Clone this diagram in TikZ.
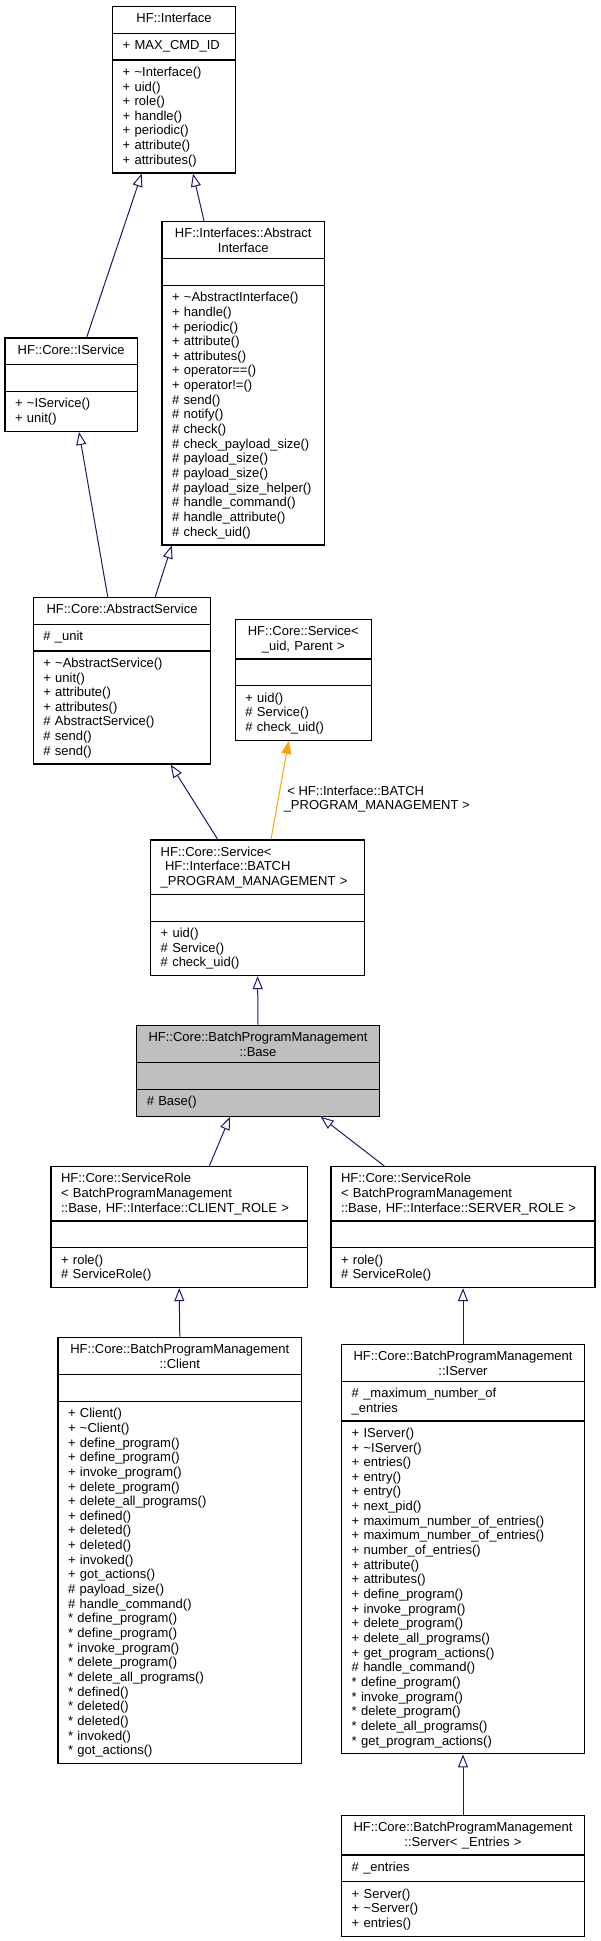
\documentclass[tikz,border=0pt]{standalone}
\usepackage{fontspec}
\setmainfont{Liberation Sans}
\usetikzlibrary{arrows.meta,shapes.multipart}

\definecolor{edgeblue}{HTML}{191970}
\definecolor{edgeorange}{HTML}{FFA500}
\definecolor{basegray}{HTML}{BFBFBF}

\newcommand{\classfont}{\fontsize{13}{14.65}\selectfont\strut}
\newcommand{\labelfont}{\fontsize{13}{14.65}\selectfont}

\begin{document}
\begin{tikzpicture}[x=1pt,y=-1pt,
  class/.style={draw=black, line width=1.2pt, fill=white, anchor=north,
                rectangle split, rectangle split parts=3,
                font=\classfont, inner xsep=10pt, inner ysep=5.5pt},
  inherit/.style={draw=edgeblue, line width=1pt,
                  -{Triangle[open, length=13pt, width=10pt]}},
  uses/.style={draw=edgeorange, line width=1pt,
               -{Triangle[length=13pt, width=10pt]}}]

  \useasboundingbox (0,0) rectangle (601,1941);

  \node[class, text width=102.6pt] (iface) at (174,5.7)
    {\centering HF::Interface\par
     \nodepart{two} + MAX\_CMD\_ID
     \nodepart{three} + \textasciitilde Interface()\\ + uid()\\ + role()\\
       + handle()\\ + periodic()\\ + attribute()\\ + attributes()};

  \node[class, text width=142.3pt] (absiface) at (243.2,220.7)
    {\centering HF::Interfaces::Abstract\\ Interface\par
     \nodepart{two} \strut
     \nodepart{three} + \textasciitilde AbstractInterface()\\ + handle()\\
       + periodic()\\ + attribute()\\ + attributes()\\ + operator==()\\
       + operator!=()\\ \# send()\\ \# notify()\\ \# check()\\
       \# check\_payload\_size()\\ \# payload\_size()\\ \# payload\_size()\\
       \# payload\_size\_helper()\\ \# handle\_command()\\
       \# handle\_attribute()\\ \# check\_uid()};

  \node[class, text width=112.3pt] (iservice) at (71.2,337.3)
    {\centering HF::Core::IService\par
     \nodepart{two} \strut
     \nodepart{three} + \textasciitilde IService()\\ + unit()};

  \node[class, text width=157.4pt] (absservice) at (122,596.7)
    {\centering HF::Core::AbstractService\par
     \nodepart{two} \# \_unit
     \nodepart{three} + \textasciitilde AbstractService()\\ + unit()\\
       + attribute()\\ + attributes()\\ \# AbstractService()\\
       \# send()\\ \# send()};

  \node[class, text width=116pt] (svctmpl) at (303.3,618.7)
    {\centering HF::Core::Service<\\ \_uid, Parent >\par
     \nodepart{two} \strut
     \nodepart{three} + uid()\\ \# Service()\\ \# check\_uid()};

  \node[class, text width=193.8pt] (svc) at (257.6,839.3)
    {HF::Core::Service<\\ \ HF::Interface::BATCH\\ \_PROGRAM\_MANAGEMENT >
     \nodepart{two} \strut
     \nodepart{three} + uid()\\ \# Service()\\ \# check\_uid()};

  \node[class, fill=basegray, text width=222.5pt] (base) at (258,1024.7)
    {\centering HF::Core::BatchProgramManagement\\ ::Base\par
     \nodepart{two} \strut
     \nodepart{three} \# Base()};

  \node[class, text width=236.3pt] (clirole) at (179.2,1166)
    {HF::Core::ServiceRole\\ < BatchProgramManagement\\
     ::Base, HF::Interface::CLIENT\_ROLE >
     \nodepart{two} \strut
     \nodepart{three} + role()\\ \# ServiceRole()};

  \node[class, text width=244pt] (srvrole) at (463,1166)
    {HF::Core::ServiceRole\\ < BatchProgramManagement\\
     ::Base, HF::Interface::SERVER\_ROLE >
     \nodepart{two} \strut
     \nodepart{three} + role()\\ \# ServiceRole()};

  \node[class, text width=223.5pt] (client) at (179.8,1336.7)
    {\centering HF::Core::BatchProgramManagement\\ ::Client\par
     \nodepart{two} \strut
     \nodepart{three} + Client()\\ + \textasciitilde Client()\\
       + define\_program()\\ + define\_program()\\ + invoke\_program()\\
       + delete\_program()\\ + delete\_all\_programs()\\ + defined()\\
       + deleted()\\ + deleted()\\ + invoked()\\ + got\_actions()\\
       \# payload\_size()\\ \# handle\_command()\\ {*} define\_program()\\
       {*} define\_program()\\ {*} invoke\_program()\\ {*} delete\_program()\\
       {*} delete\_all\_programs()\\ {*} defined()\\ {*} deleted()\\
       {*} deleted()\\ {*} invoked()\\ {*} got\_actions()};

  \node[class, text width=222.6pt] (iserver) at (463,1343.5)
    {\centering HF::Core::BatchProgramManagement\\ ::IServer\par
     \nodepart{two} \# \_maximum\_number\_of\\ \_entries
     \nodepart{three} + IServer()\\ + \textasciitilde IServer()\\
       + entries()\\ + entry()\\ + entry()\\ + next\_pid()\\
       + maximum\_number\_of\_entries()\\ + maximum\_number\_of\_entries()\\
       + number\_of\_entries()\\ + attribute()\\ + attributes()\\
       + define\_program()\\ + invoke\_program()\\ + delete\_program()\\
       + delete\_all\_programs()\\ + get\_program\_actions()\\
       \# handle\_command()\\ {*} define\_program()\\ {*} invoke\_program()\\
       {*} delete\_program()\\ {*} delete\_all\_programs()\\
       {*} get\_program\_actions()};

  \node[class, text width=222.6pt] (server) at (463,1814.7)
    {\centering HF::Core::BatchProgramManagement\\ ::Server< \_Entries >\par
     \nodepart{two} \# \_entries
     \nodepart{three} + Server()\\ + \textasciitilde Server()\\ + entries()};

  % inheritance
  \draw[inherit] ([xshift=15.5pt]iservice.north) -- ([xshift=-32.3pt]iface.south);
  \draw[inherit] ([xshift=-39.2pt]absiface.north) -- ([xshift=19pt]iface.south);
  \draw[inherit] ([xshift=-14.3pt]absservice.north) -- ([xshift=7.8pt]iservice.south);
  \draw[inherit] ([xshift=33.3pt]absservice.north) -- ([xshift=-71.5pt]absiface.south);
  \draw[inherit] ([xshift=-39.9pt]svc.north) -- ([xshift=48.7pt]absservice.south);
  \draw[uses] ([xshift=13.4pt]svc.north) --
    node[pos=0.41, anchor=west, xshift=3pt, inner sep=2pt, align=left,
         font=\labelfont] (bind) {\ < HF::Interface::BATCH\\ \_PROGRAM\_MANAGEMENT >}
    ([xshift=-14.6pt]svctmpl.south);
  \draw[inherit] (base.north) -- (svc.south);
  \draw[inherit] ([xshift=30.1pt]clirole.north) -- ([xshift=-28pt]base.south);
  \draw[inherit] ([xshift=-78.7pt]srvrole.north) -- ([xshift=62.7pt]base.south);
  \draw[inherit] (client.north) -- (clirole.south);
  \draw[inherit] (iserver.north) -- (srvrole.south);
  \draw[inherit] (server.north) -- (iserver.south);
\end{tikzpicture}
\end{document}
